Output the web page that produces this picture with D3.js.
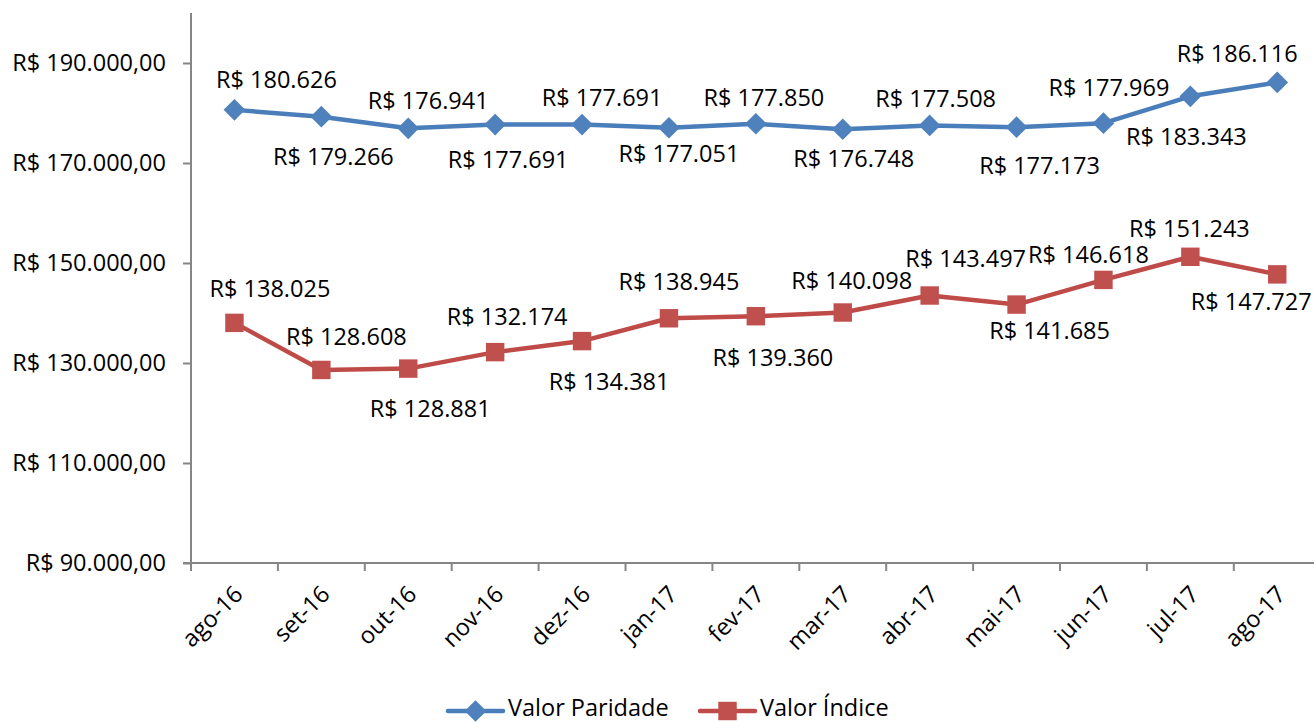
<!DOCTYPE html>
<html>
<head>
<meta charset="utf-8">
<script src="https://cdn.jsdelivr.net/npm/d3@7"></script>
<style>
  html, body { margin: 0; padding: 0; background: #fff; overflow: hidden; }
  svg { display: block; }
  text { font-family: "Open Sans", "Noto Sans", sans-serif; fill: #000; }
</style>
</head>
<body>
<svg id="chart" width="1314" height="722"></svg>
<script>
// ---------- data ----------
const categories = ["ago-16","set-16","out-16","nov-16","dez-16","jan-17","fev-17","mar-17","abr-17","mai-17","jun-17","jul-17","ago-17"];
const valorParidade = [180626,179266,176941,177691,177691,177051,177850,176748,177508,177173,177969,183343,186116];
const valorIndice   = [138025,128608,128881,132174,134381,138945,139360,140098,143497,141685,146618,151243,147727];
const seriesNames = ["Valor Paridade", "Valor Índice"];
const yTicks = [90000,110000,130000,150000,170000,190000];
const yDomain = [90000, 200000];

// label placement offsets (pixels, relative to each point)
const paridadeLabelOffsets = [[42,-30],[12,40],[20,-28],[13,35.5],[20,-27],[10,26.5],[8,-26],[11,30],[6,-27],[23,39],[5.5,-35],[-4,40],[-40,-28.5]];
const indiceLabelOffsets   = [[35.5,-34.5],[25,-33],[22,40.5],[12,-35],[27,41],[10,-36.5],[17,42],[9,-31.5],[36,-36.5],[33,26.5],[-15,-25.5],[-1,-28.5],[-26,27.5]];

// ---------- setup ----------
const svg = d3.select("#chart");
const locale = d3.formatLocale({decimal: ",", thousands: ".", grouping: [3], currency: ["R$ ", ""]});
const fmtAxis = locale.format("$,.2f");
const fmtLabel = locale.format("$,.0f");

const FS = 23.5;
const axisColor = "#868686";
const blue = "#4A7EBB", blueMarker = "#4F81BD";
const red = "#BE4B48", redMarker = "#C0504D";

const plotLeft = 191, bandW = 86.9;
const x = d3.scaleBand().domain(categories).range([plotLeft, plotLeft + bandW * categories.length]).padding(0);
const y = d3.scaleLinear().domain(yDomain).range([563, 13]);
const cx = c => x(c) + x.bandwidth() / 2;

// ---------- axes ----------
const yAxis = d3.axisLeft(y).tickValues(yTicks).tickFormat(fmtAxis).tickSize(8).tickPadding(17);
const gy = svg.append("g").attr("transform", `translate(${plotLeft},0)`).call(yAxis);
gy.select(".domain").remove();
gy.selectAll(".tick line").attr("stroke", axisColor).attr("stroke-width", 2);
gy.selectAll(".tick text").style("font-size", FS + "px").attr("fill", "#000");
svg.append("line").attr("x1", plotLeft).attr("x2", plotLeft).attr("y1", y(yDomain[1])).attr("y2", y(yDomain[0]) + 8)
  .attr("stroke", axisColor).attr("stroke-width", 2);

// x axis line and boundary ticks
svg.append("line").attr("x1", plotLeft - 8).attr("x2", x.range()[1]).attr("y1", y(yDomain[0])).attr("y2", y(yDomain[0]))
  .attr("stroke", axisColor).attr("stroke-width", 2);
const boundaries = categories.map(c => x(c)).concat([x.range()[1]]);
svg.append("g").selectAll("line").data(boundaries).join("line")
  .attr("x1", d => d).attr("x2", d => d).attr("y1", y(yDomain[0])).attr("y2", y(yDomain[0]) + 8)
  .attr("stroke", axisColor).attr("stroke-width", 2);

// x labels rotated
svg.append("g").selectAll("text").data(categories).join("text")
  .attr("transform", d => `translate(${cx(d) + 4},${y(yDomain[0]) + 27}) rotate(-45)`)
  .attr("text-anchor", "end").attr("dy", "0.35em")
  .style("font-size", FS + "px").text(d => d);

// ---------- series ----------
function drawSeries(values, color, markerColor, shape, size, offsets) {
  const pts = values.map((v, i) => ({c: categories[i], v, i}));
  const line = d3.line().x(d => cx(d.c)).y(d => y(d.v));
  svg.append("path").datum(pts).attr("d", line).attr("fill", "none")
    .attr("stroke", color).attr("stroke-width", 4.5).attr("stroke-linejoin", "round").attr("stroke-linecap", "round");
  svg.append("g").selectAll("path").data(pts).join("path")
    .attr("transform", d => `translate(${cx(d.c)},${y(d.v)})`)
    .attr("d", d3.symbol().type(shape).size(size)).attr("fill", markerColor);
  svg.append("g").selectAll("text").data(pts).join("text")
    .attr("x", d => cx(d.c) + offsets[d.i][0]).attr("y", d => y(d.v) + offsets[d.i][1])
    .attr("text-anchor", "middle").attr("dy", "0.35em")
    .style("font-size", FS + "px").text(d => fmtLabel(d.v));
}
drawSeries(valorParidade, blue, blueMarker, d3.symbolDiamond2, 300, paridadeLabelOffsets);
drawSeries(valorIndice, red, redMarker, d3.symbolSquare, 340, indiceLabelOffsets);

// ---------- legend ----------
const legendItems = [
  {name: seriesNames[0], color: blue, mc: blueMarker, shape: d3.symbolDiamond2, size: 300, x0: 448},
  {name: seriesNames[1], color: red, mc: redMarker, shape: d3.symbolSquare, size: 340, x0: 700}
];
const lg = svg.append("g");
legendItems.forEach(it => {
  const ly = 711;
  lg.append("line").attr("x1", it.x0).attr("x2", it.x0 + 55).attr("y1", ly).attr("y2", ly)
    .attr("stroke", it.color).attr("stroke-width", 4.5).attr("stroke-linecap", "round");
  lg.append("path").attr("transform", `translate(${it.x0 + 27.5},${ly})`)
    .attr("d", d3.symbol().type(it.shape).size(it.size)).attr("fill", it.mc);
  lg.append("text").attr("x", it.x0 + 60).attr("y", 716)
    .style("font-size", FS + "px").text(it.name);
});
</script>
</body>
</html>
